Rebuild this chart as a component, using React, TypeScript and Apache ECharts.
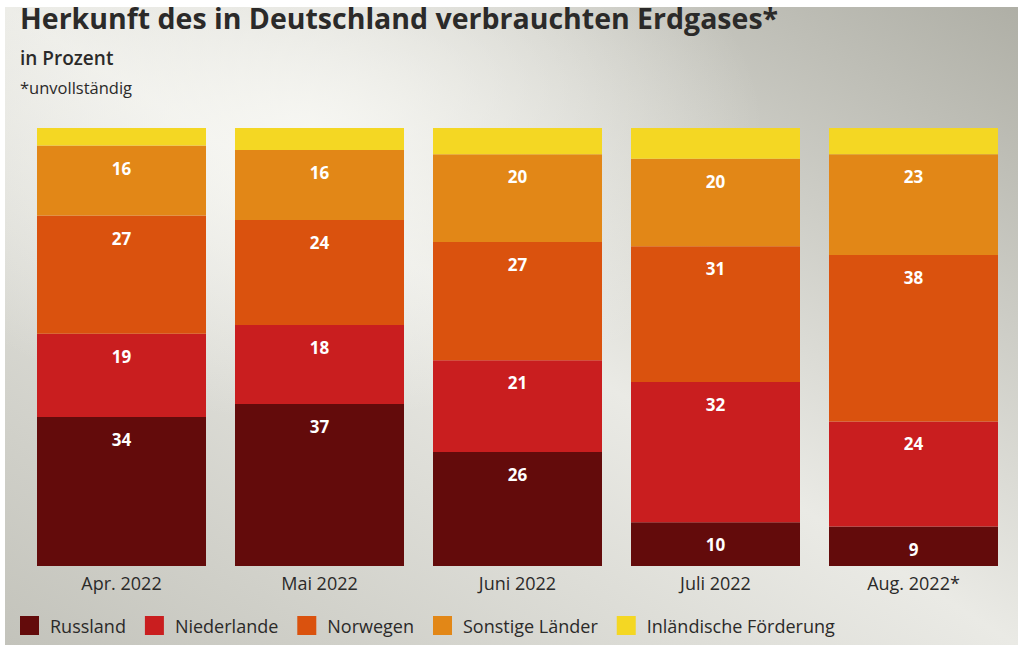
import React, { useEffect, useRef } from "react";
import * as echarts from "echarts";

const categories = ["Apr. 2022", "Mai 2022", "Juni 2022", "Juli 2022", "Aug. 2022*"];
const russland = [34, 37, 26, 10, 9];
const niederlande = [19, 18, 21, 32, 24];
const norwegen = [27, 24, 27, 31, 38];
const sonstige = [16, 16, 20, 20, 23];
const inland = [4, 5, 6, 7, 6];

const seriesDefs = [
  { name: "Russland", data: russland, color: "#630b0b", label: true },
  { name: "Niederlande", data: niederlande, color: "#c91e1f", label: true },
  { name: "Norwegen", data: norwegen, color: "#da520e", label: true },
  { name: "Sonstige Länder", data: sonstige, color: "#e28717", label: true },
  { name: "Inländische Förderung", data: inland, color: "#f4d723", label: false },
];

const FONT = "'Open Sans', sans-serif";

export default function App() {
  const ref = useRef<HTMLDivElement>(null);
  useEffect(() => {
    if (!ref.current) return;
    const chart = echarts.init(ref.current, undefined, { renderer: "svg" });
    chart.setOption({
      animation: false,
      graphic: [
        {
          type: "rect",
          z: -10,
          shape: { x: 5, y: 7, width: 1013, height: 638 },
          style: {
            fill: new echarts.graphic.LinearGradient(0, 1, 1, 0, [
              { offset: 0, color: "#c3c3bb" },
              { offset: 0.5, color: "#eaeae5" },
              { offset: 1, color: "#afafa6" },
            ]),
          },
        },
        {
          type: "rect",
          z: -9,
          shape: { x: 5, y: 7, width: 1013, height: 638 },
          style: {
            fill: new echarts.graphic.RadialGradient(0.3, 0.2, 0.45, [
              { offset: 0, color: "rgba(250,250,246,0.85)" },
              { offset: 1, color: "rgba(250,250,246,0)" },
            ]),
          },
        },
        {
          type: "text",
          left: 20,
          top: 3,
          style: { text: "Herkunft des in Deutschland verbrauchten Erdgases*", font: `bold 28.5px ${FONT}`, fill: "#2b2a29" },
        },
        {
          type: "text",
          left: 20,
          top: 48,
          style: { text: "in Prozent", font: `600 19px ${FONT}`, fill: "#2b2a29" },
        },
        {
          type: "text",
          left: 20,
          top: 79,
          style: { text: "*unvollständig", font: `16.5px ${FONT}`, fill: "#2b2a29" },
        },
      ],
      legend: {
        left: 20,
        bottom: 14,
        padding: 0,
        itemWidth: 19,
        itemHeight: 19,
        itemGap: 19,
        icon: "rect",
        textStyle: { fontFamily: FONT, fontSize: 18, color: "#2b2a29", padding: [0, 0, 0, 6] },
        data: seriesDefs.map((s) => s.name),
      },
      grid: { left: 22.5, right: 5.5, top: 128, bottom: 83 },
      xAxis: {
        type: "category",
        data: categories,
        axisLine: { show: false },
        axisTick: { show: false },
        axisLabel: { fontFamily: FONT, fontSize: 18, color: "#2b2a29", margin: 8 },
      },
      yAxis: {
        type: "value",
        min: 0,
        max: 100,
        show: false,
        splitLine: { show: false },
      },
      series: seriesDefs.map((s) => ({
        name: s.name,
        type: "bar",
        stack: "total",
        barWidth: 169,
        data: s.data,
        itemStyle: { color: s.color },
        label: {
          show: s.label,
          position: "insideTop",
          distance: 14,
          color: "#ffffff",
          fontFamily: FONT,
          fontWeight: "bold",
          fontSize: 17,
        },
      })),
    });
    return () => chart.dispose();
  }, []);
  return <div ref={ref} style={{ width: 1018, height: 649, position: "absolute", left: 0, top: 0 }} />;
}
